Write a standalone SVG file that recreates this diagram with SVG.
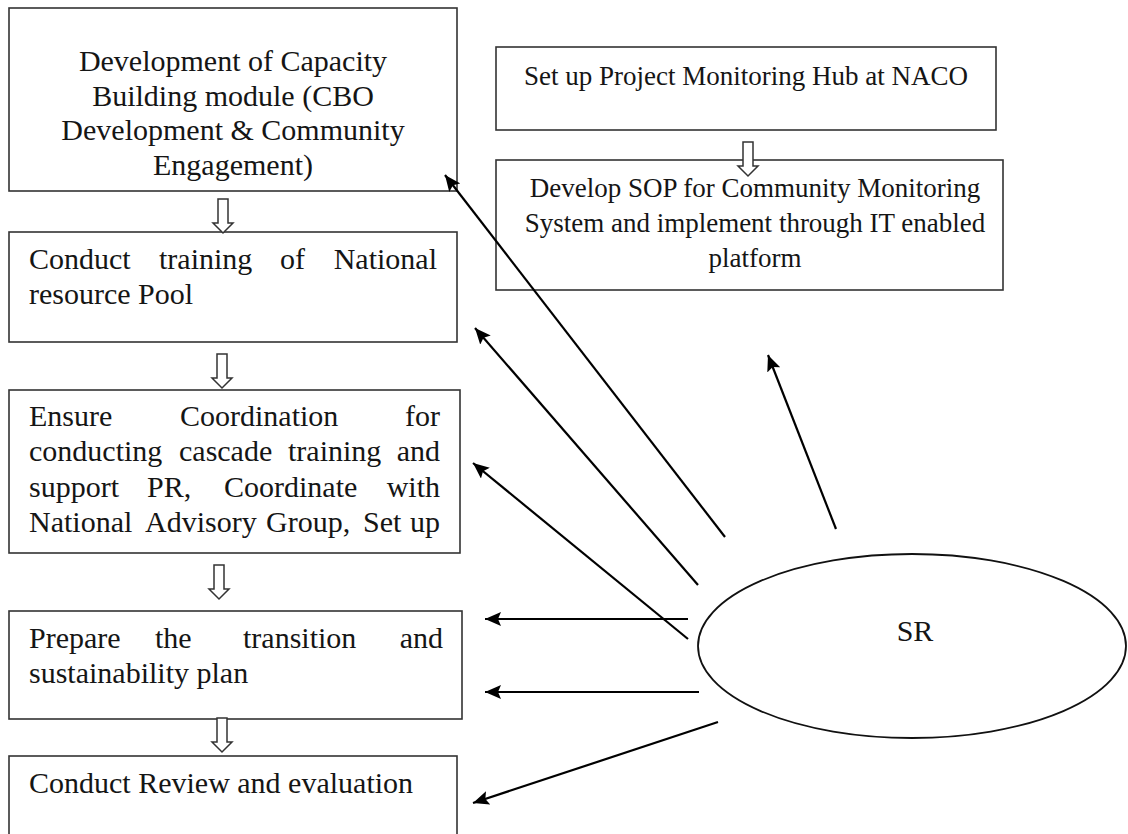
<svg xmlns="http://www.w3.org/2000/svg" xmlns:xlink="http://www.w3.org/1999/xlink" width="1128" height="834" viewBox="0 0 1128 834">
<style>
.box{fill:#fff;stroke:#333;stroke-width:1.6}
.t{font-family:"Liberation Serif","Times New Roman",serif;font-size:27px;fill:#151515}
.L{font-size:30px}
.c{text-anchor:middle}
.e{text-anchor:end}
.conn{stroke:#000;stroke-width:2.2;fill:none;marker-end:url(#ah)}
.blk{fill:#fff;stroke:#333;stroke-width:1.5}
</style>
<defs>
<marker id="ah" markerUnits="userSpaceOnUse" markerWidth="18" markerHeight="14" refX="16" refY="7" orient="auto">
<path d="M0,0 L16,7 L0,14 L3,7 Z" fill="#000"/>
</marker>
<path id="down" d="M-5,0 H5 V24 H10 L0,34 L-10,24 H-5 Z"/>
</defs>
<rect width="1128" height="834" fill="#fff"/>

<g id="n1">
<rect class="box" x="9" y="8" width="448" height="183"/>
<text class="t L c" x="233" y="71">Development of Capacity</text>
<text class="t L c" x="233" y="106">Building module (CBO</text>
<text class="t L c" x="233" y="140">Development &amp; Community</text>
<text class="t L c" x="233" y="175">Engagement)</text>
</g>

<g id="n2">
<rect class="box" x="9" y="232" width="448" height="110"/>
<text class="t L" y="269"><tspan x="29">Conduct</tspan><tspan x="159">training</tspan><tspan x="280">of</tspan></text>
<text class="t L e" x="437" y="269">National</text>
<text class="t L" x="29" y="304">resource Pool</text>
</g>

<g id="n3">
<rect class="box" x="9" y="390" width="451" height="163"/>
<text class="t L" y="426"><tspan x="29">Ensure</tspan><tspan x="180">Coordination</tspan></text>
<text class="t L e" x="440" y="426">for</text>
<text class="t L" y="461"><tspan x="29">conducting</tspan><tspan x="179">cascade</tspan><tspan x="288">training</tspan></text>
<text class="t L e" x="440" y="461">and</text>
<text class="t L" y="497"><tspan x="29">support</tspan><tspan x="147">PR,</tspan><tspan x="224">Coordinate</tspan></text>
<text class="t L e" x="440" y="497">with</text>
<text class="t L" y="532"><tspan x="29">National</tspan><tspan x="145">Advisory</tspan><tspan x="266">Group,</tspan><tspan x="363">Set</tspan></text>
<text class="t L e" x="440" y="532">up</text>
</g>

<g id="n4">
<rect class="box" x="9" y="611" width="453" height="108"/>
<text class="t L" y="648"><tspan x="29">Prepare</tspan><tspan x="155">the</tspan><tspan x="243">transition</tspan></text>
<text class="t L e" x="443" y="648">and</text>
<text class="t L" x="29" y="683">sustainability plan</text>
</g>

<g id="n5">
<rect class="box" x="9" y="756" width="448" height="90"/>
<text class="t L" x="29" y="793">Conduct Review and evaluation</text>
</g>

<g id="n6">
<rect class="box" x="496" y="47" width="500" height="83"/>
<text class="t c" x="746" y="85">Set up Project Monitoring Hub at NACO</text>
</g>

<g id="n7">
<rect class="box" x="496" y="160" width="507" height="130"/>
<text class="t c" x="755" y="197">Develop SOP for Community Monitoring</text>
<text class="t c" x="755" y="232">System and implement through IT enabled</text>
<text class="t c" x="755" y="267">platform</text>
</g>

<g id="sr">
<ellipse cx="912" cy="646" rx="214" ry="92" fill="none" stroke="#111" stroke-width="1.8"/>
<text class="t c" x="915" y="641" style="font-size:30px">SR</text>
</g>

<g id="connectors">
<use xlink:href="#down" href="#down" class="blk" x="223" y="199"/>
<use xlink:href="#down" href="#down" class="blk" x="222" y="354"/>
<use xlink:href="#down" href="#down" class="blk" x="219" y="565"/>
<use xlink:href="#down" href="#down" class="blk" x="222" y="718"/>
<use xlink:href="#down" href="#down" class="blk" x="748" y="142"/>
<line class="conn" x1="725" y1="537" x2="445" y2="175"/>
<line class="conn" x1="698" y1="585" x2="475" y2="328"/>
<line class="conn" x1="688" y1="639" x2="473" y2="463"/>
<line class="conn" x1="688" y1="619" x2="485" y2="619"/>
<line class="conn" x1="699" y1="692" x2="485" y2="692"/>
<line class="conn" x1="718" y1="722" x2="473" y2="803"/>
<line class="conn" x1="836" y1="529" x2="768" y2="355"/>
</g>
</svg>
